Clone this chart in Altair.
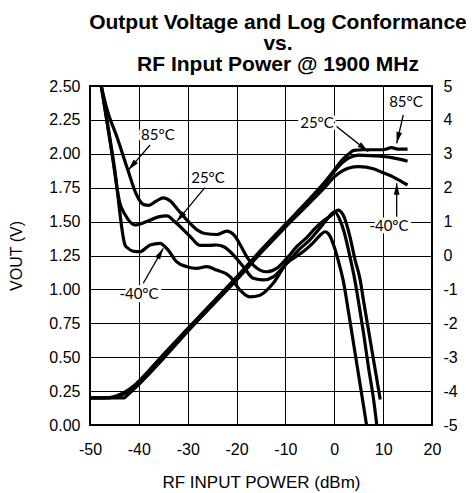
import math
import altair as alt
import pandas as pd

# ---------------- data ----------------
x_ticks = [-50, -40, -30, -20, -10, 0, 10, 20]
v_ticks = [0, 0.25, 0.5, 0.75, 1.0, 1.25, 1.5, 1.75, 2.0, 2.25, 2.5]
r_ticks = [-5, -4, -3, -2, -1, 0, 1, 2, 3, 4, 5]
series = ["85°C", "25°C", "-40°C"]

# Output voltage (V)
vout85_x = [-50, -47, -45, -43, -41, -39, -35, -30, -25, -20, -15, -10, -5, -2, 0, 1.5, 3, 4, 6, 8, 10, 11.7, 13, 15]
vout85_y = [0.2, 0.2, 0.21, 0.24, 0.29, 0.36, 0.52, 0.71, 0.9, 1.09, 1.29, 1.48, 1.67, 1.79, 1.88, 1.95, 2.0, 2.025, 2.03, 2.03, 2.03, 2.045, 2.035, 2.035]
vout25_x = [-50, -46, -44, -42, -40, -35, -30, -25, -20, -15, -10, -5, -2, 0, 1.5, 3, 5, 8, 10, 12, 14, 15]
vout25_y = [0.2, 0.2, 0.215, 0.25, 0.31, 0.5, 0.7, 0.89, 1.08, 1.28, 1.47, 1.66, 1.78, 1.87, 1.93, 1.97, 1.99, 1.985, 1.98, 1.97, 1.955, 1.945]
voutm40_x = [-50, -43, -42.5, -40, -35, -30, -25, -20, -15, -10, -5, -2, 0, 1.5, 3, 5, 8, 10, 12, 14, 15]
voutm40_y = [0.2, 0.2, 0.215, 0.3, 0.49, 0.69, 0.88, 1.07, 1.27, 1.46, 1.64, 1.75, 1.83, 1.87, 1.895, 1.905, 1.89, 1.86, 1.83, 1.79, 1.77]

# Log conformance (dB)
conf85_x = [-47.7, -46.5, -44.5, -42.2, -40.5, -39, -38, -36.5, -35, -33.5, -32, -30.2, -28, -26.5, -24, -22, -20.5, -19, -17.9, -15.2, -13.8, -11.8, -9.5, -7.7, -5.5, -3.6, -2, -0.55, 0.8, 1.8, 3.2, 4.2, 5.3, 6, 7, 8, 9, 9.4]
conf85_y = [5.0, 4.3, 3.5, 2.5, 1.8, 1.5, 1.48, 1.6, 1.7, 1.6, 1.35, 1.05, 0.75, 0.65, 0.62, 0.72, 0.6, 0.25, -0.04, -0.43, -0.48, -0.38, -0.05, 0.26, 0.55, 0.85, 1.05, 1.19, 1.34, 1.2, 0.56, -0.1, -0.72, -1.35, -2.2, -3.05, -3.9, -4.25]
conf25_x = [-47.7, -45.5, -43.9, -42.8, -40.8, -38.4, -36, -34.3, -32.3, -29.5, -27.5, -25.5, -24.1, -22.5, -21.3, -18.6, -16.6, -14.5, -12.5, -10.5, -9.1, -7, -5, -3, -1.6, 0.1, 1, 2, 3, 4.2, 5, 6, 7, 8, 8.7]
conf25_y = [5.0, 3.0, 1.55, 1.2, 0.9, 1.0, 1.14, 1.17, 0.95, 0.56, 0.3, 0.3, 0.31, 0.25, 0.11, -0.33, -0.67, -0.72, -0.63, -0.35, -0.13, 0.2, 0.46, 0.8, 1.05, 1.29, 1.1, 0.7, 0.1, -0.72, -1.4, -2.3, -3.3, -4.2, -5.0]
confm40_x = [-47.7, -45, -42.8, -42.2, -41, -39.8, -37.7, -35.7, -34, -32.3, -30.2, -28.2, -26.1, -24.1, -21.3, -19.3, -17.3, -15.2, -12.5, -9.75, -8, -6.4, -4.5, -2.9, -1.9, -1, 0, 1, 1.8, 3, 4, 5, 6, 6.6]
confm40_y = [5.0, 2.6, 0.3, 0.21, 0.12, 0.11, 0.31, 0.36, 0.16, -0.18, -0.33, -0.38, -0.33, -0.43, -0.63, -1.02, -1.22, -1.17, -0.82, -0.23, -0.05, 0.11, 0.35, 0.6, 0.7, 0.6, 0.25, -0.25, -0.72, -1.75, -2.65, -3.55, -4.45, -5.0]

# annotations (label position, arrow start, arrow tip) in data units (dBm, V)
ann_text = ["85°C", "25°C", "-40°C", "25°C", "85°C", "-40°C"]
ann_x = [-36.1, -25.85, -39.97, -3.54, 14.67, 11.2]
ann_y = [2.14, 1.82, 0.966, 2.227, 2.38, 1.468]
arr_x1 = [-37.7, -26.5, -39.1, 0.14, 14.12, 12.77]
arr_y1 = [2.065, 1.75, 1.045, 2.21, 2.286, 1.536]
arr_x2 = [-42.16, -32.26, -35.0, 6.96, 12.77, 12.77]
arr_y2 = [1.88, 1.50, 1.303, 2.016, 2.077, 1.782]

# ---------------- tables ----------------
W, H = 342, 339
px_per_x = W / 70.0
px_per_v = H / 2.5

vout = pd.concat([
    pd.DataFrame({"x": vout85_x, "v": vout85_y, "s": series[0]}),
    pd.DataFrame({"x": vout25_x, "v": vout25_y, "s": series[1]}),
    pd.DataFrame({"x": voutm40_x, "v": voutm40_y, "s": series[2]}),
])
conf = pd.concat([
    pd.DataFrame({"x": conf85_x, "r": conf85_y, "s": series[0]}),
    pd.DataFrame({"x": conf25_x, "r": conf25_y, "s": series[1]}),
    pd.DataFrame({"x": confm40_x, "r": confm40_y, "s": series[2]}),
])
labels = pd.DataFrame({"x": ann_x, "v": ann_y, "t": ann_text})
angles = []
for a, b, c, d in zip(arr_x1, arr_y1, arr_x2, arr_y2):
    dx = (c - a) * px_per_x
    dy = -(d - b) * px_per_v
    angles.append(math.degrees(math.atan2(dx, -dy)) % 360)
arrows = pd.DataFrame({"x": arr_x1, "v": arr_y1, "x2": arr_x2, "v2": arr_y2, "ang": angles})

FONT = "Liberation Sans"

x_scale = alt.Scale(domain=[-50, 20], nice=False, zero=False)
v_scale = alt.Scale(domain=[0, 2.5], nice=False, zero=False)
r_scale = alt.Scale(domain=[-5, 5], nice=False, zero=False)

x_axis = alt.Axis(values=x_ticks, title="RF INPUT POWER (dBm)", grid=True,
                  labelExpr="datum.value + ''", labelFlush=False, labelOverlap=False,
                  labelPadding=16, titleY=62, titleBaseline="alphabetic")
v_axis = alt.Axis(values=v_ticks, format=".2f", title="VOUT (V)", grid=True,
                  labelFlush=False, labelOverlap=False,
                  labelPadding=10, titleX=-74, titleY=H / 2, titleAngle=270,
                  titleFontSize=16, titleBaseline="middle", titleAlign="center")


def X(field):
    return alt.X(field, scale=x_scale, axis=x_axis)


def V(field):
    return alt.Y(field, scale=v_scale, axis=v_axis)


vout_lines = alt.Chart(vout).mark_line(color="black", strokeWidth=3.2, interpolate="monotone", clip=True).encode(
    x=X("x:Q"), y=V("v:Q"), detail="s:N",
)
arrow_lines = alt.Chart(arrows).mark_rule(color="black", strokeWidth=1.3).encode(
    x=X("x:Q"), y=V("v:Q"), x2="x2:Q", y2="v2:Q",
)
arrow_heads = alt.Chart(arrows).mark_point(
    shape="M0,0L0.5,2L-0.5,2Z", filled=True, color="black", opacity=1, size=130
).encode(
    x=X("x2:Q"), y=V("v2:Q"), angle=alt.Angle("ang:Q", scale=None),
)
label_bg = alt.Chart(labels).mark_text(font="Lato", fontSize=15, fill="white", stroke="white",
                                       strokeWidth=6, strokeJoin="round").encode(
    x=X("x:Q"), y=V("v:Q"), text="t:N",
)
label_fg = alt.Chart(labels).mark_text(font="Lato", fontSize=15, color="black").encode(
    x=X("x:Q"), y=V("v:Q"), text="t:N",
)

left_layer = alt.layer(vout_lines, arrow_lines, label_bg, label_fg, arrow_heads)

conf_lines = alt.Chart(conf).mark_line(color="black", strokeWidth=3.2, interpolate="monotone", clip=True).encode(
    x=X("x:Q"),
    y=alt.Y("r:Q", scale=r_scale,
            axis=alt.Axis(values=r_ticks, orient="right", title=None, grid=False,
                          labelExpr="datum.value + ''", labelFlush=False, labelOverlap=False,
                          labelPadding=11, labelAlign="left")),
    detail="s:N",
)

chart = alt.layer(left_layer, conf_lines).resolve_scale(y="independent").properties(
    width=W, height=H,
    autosize="none",
    padding={"left": 82, "top": 78, "right": 34, "bottom": 66},
    title=alt.TitleParams(
        text=["Output Voltage and Log Conformance", "vs.", "RF Input Power @ 1900 MHz"],
        font=FONT, fontSize=21, fontWeight="bold", color="black",
        lineHeight=21, anchor="middle", frame="group", dx=17, offset=3,
    ),
).configure_axis(
    labelFont=FONT, labelFontSize=16, labelColor="black",
    titleFont=FONT, titleFontSize=17, titleFontWeight="normal", titleColor="black",
    gridColor="black", gridWidth=1, gridOpacity=1, domain=False, ticks=False,
).configure_view(stroke="black", strokeWidth=2)

chart.save("out.html", embed_options={"renderer": "svg", "actions": False})
